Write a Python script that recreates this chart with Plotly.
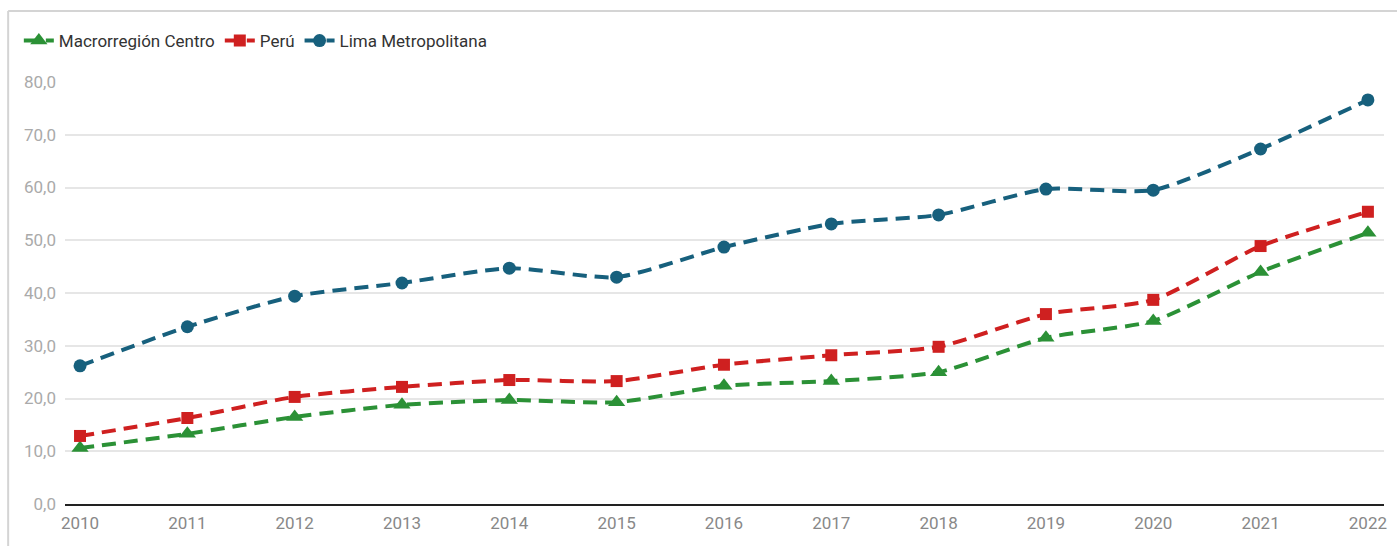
import plotly.graph_objects as go

years = [2010, 2011, 2012, 2013, 2014, 2015, 2016, 2017, 2018, 2019, 2020, 2021, 2022]
macro_centro = [10.6, 13.3, 16.5, 18.8, 19.7, 19.3, 22.4, 23.3, 25.0, 31.5, 34.7, 44.0, 51.4]
peru = [12.9, 16.3, 20.3, 22.2, 23.5, 23.3, 26.4, 28.2, 29.8, 36.0, 38.7, 48.9, 55.4]
lima_metro = [26.2, 33.6, 39.4, 41.9, 44.7, 43.0, 48.7, 53.1, 54.8, 59.7, 59.5, 67.3, 76.6]
y_ticks = [0, 10, 20, 30, 40, 50, 60, 70, 80]

series = [
    ("Macrorregión Centro", macro_centro, "#2b9136", "triangle-up", 15),
    ("Perú", peru, "#cf2020", "square", 12),
    ("Lima Metropolitana", lima_metro, "#17607d", "circle", 13),
]

fig = go.Figure()
for name, vals, color, symbol, size in series:
    fig.add_trace(go.Scatter(
        x=years, y=vals, name=name, mode="lines+markers",
        line=dict(color=color, width=4, dash="14px,8px", shape="spline", smoothing=0.6),
        marker=dict(symbol=symbol, size=size, color=color),
    ))

fig.update_layout(
    width=1397, height=546,
    margin=dict(l=65, r=10, t=82, b=42),
    paper_bgcolor="white", plot_bgcolor="white",
    separators=",.",
    font=dict(family="Roboto, Arial, sans-serif", color="#333333", size=14),
    showlegend=True,
    legend=dict(
        orientation="h", x=-0.035, xanchor="left", y=1.097, yanchor="middle",
        font=dict(size=17, color="#333333"), itemwidth=30, tracegroupgap=0,
        bgcolor="rgba(0,0,0,0)",
    ),
    xaxis=dict(
        range=[2009.86, 2022.15], tickmode="array", tickvals=years,
        ticktext=[str(y) for y in years], showgrid=False, zeroline=False,
        showline=True, linecolor="#222222", linewidth=2,
        tickfont=dict(size=17, color="#888888"), ticks="", ticklabelstandoff=3,
    ),
    yaxis=dict(
        range=[0, 80], tickmode="array", tickvals=y_ticks, tickformat=".1f",
        showgrid=True, gridcolor="#e6e6e6", gridwidth=1.5, zeroline=False,
        showline=False, tickfont=dict(size=17, color="#aaaaaa"), ticks="",
        ticklabelstandoff=8,
    ),
    shapes=[
        dict(type="line", xref="paper", yref="paper", x0=-0.0431, x1=1.01, y0=1.168, y1=1.168,
             line=dict(color="#d4d4d4", width=2), layer="below"),
        dict(type="line", xref="paper", yref="paper", x0=-0.0431, x1=-0.0431, y0=1.168, y1=-0.12,
             line=dict(color="#d4d4d4", width=2), layer="below"),
    ],
)

fig.write_html("out.html")
